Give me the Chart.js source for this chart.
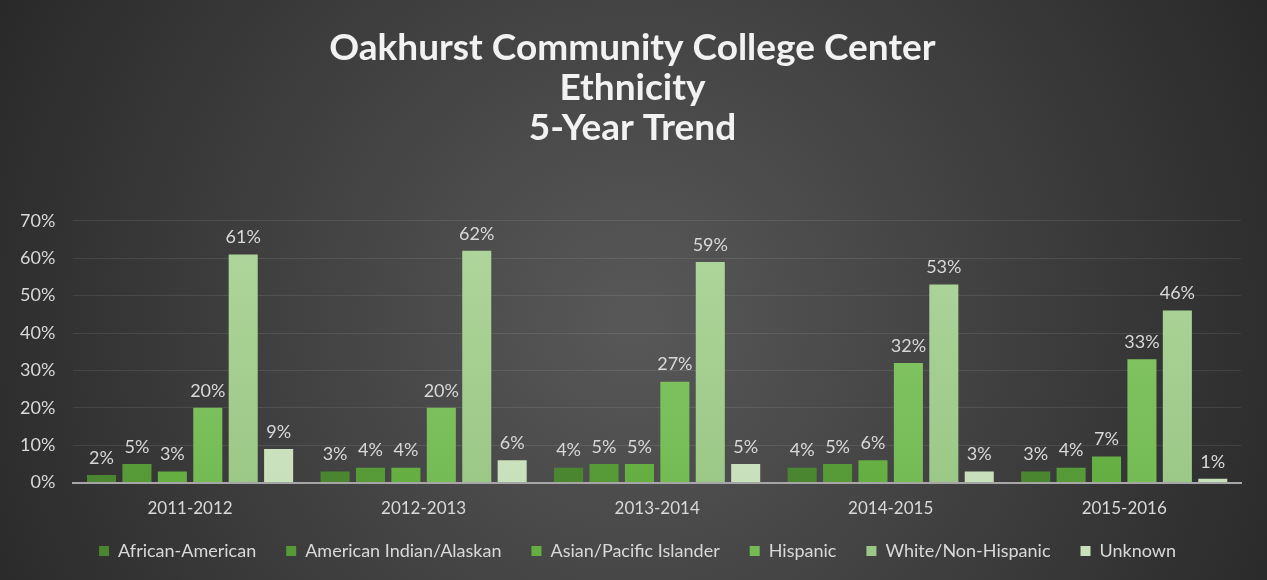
<!DOCTYPE html>
<html>
<head>
<meta charset="utf-8">
<script src="https://cdn.jsdelivr.net/npm/chart.js@4.4.1/dist/chart.umd.min.js"></script>
<style>
  html, body { margin: 0; padding: 0; background: #2b2b2b; }
  #wrap { width: 1267px; height: 580px; }
</style>
</head>
<body>
<div id="wrap"><canvas id="ethnicity-chart"></canvas></div>
<script>
const years = ['2011-2012', '2012-2013', '2013-2014', '2014-2015', '2015-2016'];
const africanAmerican = [2, 3, 4, 4, 3];
const americanIndian = [5, 4, 5, 5, 4];
const asianPacific = [3, 4, 5, 6, 7];
const hispanic = [20, 20, 27, 32, 33];
const whiteNonHispanic = [61, 62, 59, 53, 46];
const unknown = [9, 6, 5, 3, 1];
const yTicks = [0, 10, 20, 30, 40, 50, 60, 70];

const fontFamily = 'Lato, "Open Sans", sans-serif';

// dark radial backdrop like the office theme
const backdrop = {
  id: 'backdrop',
  beforeDraw(chart) {
    const c = chart.ctx;
    const w = chart.width, h = chart.height;
    const g = c.createRadialGradient(w / 2, h * 0.55, 20, w / 2, h * 0.55, w * 0.62);
    g.addColorStop(0, '#575757');
    g.addColorStop(1, '#242424');
    c.save();
    c.fillStyle = g;
    c.fillRect(0, 0, w, h);
    c.restore();
  }
};

// legend needs wide gaps between items but sits close under the axis;
// title and legend are centred on the whole picture, not the padded box
const nudge = {
  id: 'nudge',
  afterLayout(chart) {
    const lg = chart.legend;
    lg.top -= 15;
    lg.bottom -= 15;
    lg.left += 16;
    lg.right += 16;
    const tt = chart.titleBlock;
    if (tt) {
      tt.left += 11;
      tt.right += 11;
    }
  }
};

// value labels above each bar
const barLabels = {
  id: 'barLabels',
  afterDatasetsDraw(chart) {
    const c = chart.ctx;
    c.save();
    c.font = '18px ' + fontFamily;
    c.fillStyle = '#d9d9d9';
    c.textAlign = 'center';
    c.textBaseline = 'bottom';
    chart.data.datasets.forEach((ds, i) => {
      chart.getDatasetMeta(i).data.forEach((bar, j) => {
        c.fillText(ds.data[j] + '%', bar.x, bar.y - 8);
      });
    });
    c.restore();
  }
};

// bars get a little lighter toward the top
function barFill(top, bottom) {
  return function (context) {
    const area = context.chart.chartArea;
    if (!area) return bottom;
    const g = context.chart.ctx.createLinearGradient(0, area.top, 0, area.bottom);
    g.addColorStop(0, top);
    g.addColorStop(1, bottom);
    return g;
  };
}

function makeSet(label, data, top, bottom) {
  return { label: label, data: data, backgroundColor: barFill(top, bottom), borderWidth: 0 };
}

const ctx = document.getElementById('ethnicity-chart');
new Chart(ctx, {
  type: 'bar',
  data: {
    labels: years,
    datasets: [
      makeSet('African-American', africanAmerican, '#5c9a40', '#4a8630'),
      makeSet('American Indian/Alaskan', americanIndian, '#68ab48', '#559a36'),
      makeSet('Asian/Pacific Islander', asianPacific, '#78bd55', '#64ae42'),
      makeSet('Hispanic', hispanic, '#8ccb6c', '#74bb55'),
      makeSet('White/Non-Hispanic', whiteNonHispanic, '#b0d69d', '#9cc887'),
      makeSet('Unknown', unknown, '#dcecd3', '#c9e0bc')
    ]
  },
  plugins: [backdrop, nudge, barLabels],
  options: {
    responsive: true,
    maintainAspectRatio: false,
    animation: false,
    layout: { padding: { left: 2, right: 26, top: 0, bottom: -5 } },
    datasets: { bar: { barPercentage: 0.82, categoryPercentage: 0.91 } },
    plugins: {
      title: {
        display: true,
        text: ['Oakhurst Community College Center', 'Ethnicity', '5-Year Trend'],
        color: '#f2f2f2',
        font: { family: fontFamily, size: 37, weight: 'bold', lineHeight: 1.08 },
        padding: { top: 28, bottom: 73 }
      },
      legend: {
        position: 'bottom',
        labels: {
          color: '#d9d9d9',
          font: { family: fontFamily, size: 18 },
          boxWidth: 10,
          boxHeight: 10,
          padding: 30
        }
      },
      tooltip: { enabled: false }
    },
    scales: {
      x: {
        grid: { display: false },
        border: { color: '#a6a6a6', width: 2 },
        ticks: { color: '#d9d9d9', font: { family: fontFamily, size: 17 }, padding: 8 }
      },
      y: {
        min: 0,
        max: 70,
        afterBuildTicks(axis) { axis.ticks = yTicks.map(v => ({ value: v })); },
        grid: { color: 'rgba(255,255,255,0.09)', drawTicks: false },
        border: { display: false },
        ticks: {
          color: '#d9d9d9',
          font: { family: fontFamily, size: 18 },
          padding: 18,
          callback: v => v + '%'
        }
      }
    }
  }
});
</script>
</body>
</html>
